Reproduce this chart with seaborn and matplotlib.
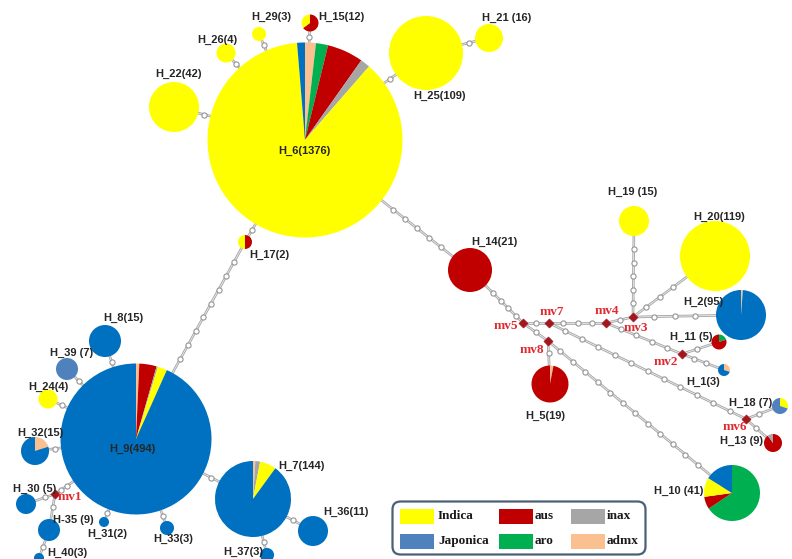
import numpy as np
import pandas as pd
import matplotlib
matplotlib.use("Agg")
import matplotlib.pyplot as plt
from matplotlib.patches import Wedge, Rectangle, FancyBboxPatch
import seaborn as sns

sns.set_theme(style="white")
plt.rcParams["font.family"] = ["Liberation Sans", "DejaVu Sans"]

# ---- haplotype data -------------------------------------------------------
haplotypes = ["H_6", "H_22", "H_26", "H_29", "H_15", "H_25", "H_21", "H_17",
              "H_14", "H_19", "H_20", "H_2", "H_11", "H_1", "H_18", "H_13",
              "H_10", "H_5", "H_9", "H_8", "H_39", "H_24", "H_32", "H_30",
              "H-35", "H_40", "H_31", "H_33", "H_7", "H_36", "H_37"]
counts = [1376, 42, 4, 3, 12, 109, 16, 2, 21, 15, 119, 95, 5, 3, 7, 9,
          41, 19, 494, 15, 7, 4, 15, 5, 9, 3, 2, 3, 144, 11, 3]
node_labels = ["H_6(1376)", "H_22(42)", "H_26(4)", "H_29(3)", "H_15(12)",
               "H_25(109)", "H_21 (16)", "H_17(2)", "H_14(21)", "H_19 (15)",
               "H_20(119)", "H_2(95)", "H_11 (5)", "H_1(3)", "H_18 (7)",
               "H_13 (9)", "H_10 (41)", "H_5(19)", "H_9(494)", "H_8(15)",
               "H_39 (7)", "H_24(4)", "H_32(15)", "H_30 (5)", "H-35 (9)",
               "H_40(3)", "H_31(2)", "H_33(3)", "H_7(144)", "H_36(11)",
               "H_37(3)"]

# share of each group within every haplotype
admx_share = [0.018, 0, 0, 0, 0, 0, 0, 0, 0, 0, 0, 0.012, 0, 0.30, 0, 0,
              0, 0.03, 0.007, 0, 0, 0, 0.20, 0, 0, 0, 0, 0, 0.01, 0, 0]
aro_share = [0.020, 0, 0, 0, 0, 0, 0, 0, 0, 0, 0, 0, 0.20, 0, 0, 0,
             0.656, 0, 0, 0, 0, 0, 0, 0, 0, 0, 0, 0, 0, 0, 0]
aus_share = [0.060, 0, 0, 0, 0.65, 0, 0, 0.5, 1, 0, 0, 0, 0.80, 0, 0, 0.90,
             0.072, 0.97, 0.037, 0, 0, 0, 0, 0, 0, 0, 0, 0, 0, 0, 0]
inax_share = [0.016, 0, 0, 0, 0, 0, 0, 0, 0, 0, 0, 0, 0, 0, 0, 0.10,
              0, 0, 0.003, 0, 0, 0, 0, 0, 0, 0, 0, 0, 0.02, 0, 0]
indica_share = [0.873, 1, 1, 1, 0.35, 1, 1, 0.5, 0, 1, 1, 0, 0, 0, 0.30, 0,
                0.111, 0, 0.020, 0, 0, 1, 0, 0, 0, 0, 0, 0, 0.07, 0, 0]
japonica_share = [0.013, 0, 0, 0, 0, 0, 0, 0, 0, 0, 0, 0.988, 0, 0.70, 0.70, 0,
                  0.161, 0, 0.933, 1, 1, 0, 0.80, 1, 1, 1, 1, 1, 0.90, 1, 1]

groups = ["admx", "aro", "aus", "inax", "Indica", "Japonica"]  # clockwise from 12 o'clock
shares = dict(zip(groups, [admx_share, aro_share, aus_share, inax_share,
                           indica_share, japonica_share]))

# median vectors and network edges (haplotype, haplotype, mutation steps)
median_vectors = ["mv1", "mv2", "mv3", "mv4", "mv5", "mv6", "mv7", "mv8"]
edges = [("H_6", "H_22", 1), ("H_6", "H_26", 1), ("H_6", "H_29", 1),
         ("H_6", "H_15", 1), ("H_6", "H_25", 1), ("H_25", "H_21", 1),
         ("H_6", "H_14", 5), ("H_6", "H_17", 1), ("H_17", "H_9", 8),
         ("H_14", "mv5", 4), ("mv5", "mv7", 1), ("mv7", "mv4", 3),
         ("mv4", "mv3", 1), ("mv3", "H_19", 5), ("mv3", "H_20", 3),
         ("mv3", "H_2", 3), ("mv4", "mv2", 4), ("mv2", "H_11", 1),
         ("mv2", "H_1", 2), ("mv7", "mv6", 11), ("mv6", "H_18", 1),
         ("mv6", "H_13", 1), ("mv5", "mv8", 1), ("mv8", "H_5", 1),
         ("mv8", "H_10", 12), ("H_9", "H_8", 1), ("H_9", "H_39", 1),
         ("H_9", "H_24", 1), ("H_9", "H_32", 1), ("H_9", "mv1", 2),
         ("mv1", "H_30", 1), ("mv1", "H-35", 1), ("H-35", "H_40", 1),
         ("H_9", "H_31", 1), ("H_9", "H_33", 1), ("H_9", "H_7", 1),
         ("H_7", "H_36", 1), ("H_7", "H_37", 1)]

# ---- network layout (canvas units, y grows downward) ----------------------
layout_x = [305, 174, 226, 259, 310, 426, 489, 245, 470, 634, 715, 741, 719,
            724, 780, 773, 732, 550, 136, 105, 67, 48, 35, 26, 49, 39, 104,
            167, 253, 313, 267]
layout_y = [140, 107, 53, 34, 23, 53, 38, 242, 270, 221, 256, 315, 342, 370,
            406, 443, 493, 384, 439, 341, 369, 399, 451, 504, 530, 558, 522,
            528, 499, 531, 555]
node_radius = [97.5, 25, 9.5, 7, 8.5, 37, 14, 7, 22, 15, 35, 25, 7.5, 6, 8,
               9, 28, 18.5, 75.5, 16, 11, 9.5, 14, 10, 11, 5, 5, 7, 38, 15, 7]
label_x = [304, 178, 217, 271, 341, 439, 507, 269, 494, 633, 719, 703, 691,
           703, 751, 742, 679, 545, 132, 123, 72, 48, 40, 35, 73, 67, 107,
           173, 301, 346, 243]
label_y = [151, 74, 40, 17, 17, 96, 18, 255, 242, 192, 217, 302, 337, 382,
           403, 441, 491, 416, 449, 318, 353, 387, 433, 489, 520, 553, 534,
           539, 466, 512, 552]
mv_x = [55, 682, 633, 606, 523, 746, 549, 548]
mv_y = [494, 354, 317, 323, 323, 419, 323, 341]
mv_label_x = [58, 666, 636, 607, 506, 735, 552, 532]
mv_label_y = [497, 362, 328, 311, 326, 427, 312, 350]

colors = {"Indica": "#FFFF00", "Japonica": "#0070C0", "aus": "#C00000",
          "aro": "#00B050", "inax": "#A6A6A6", "admx": "#FAC090"}
steel_blue = "#4F81BD"
steel_nodes = {"H_39", "H_18"}

pos = {h: (x, y, r) for h, x, y, r in zip(haplotypes, layout_x, layout_y, node_radius)}
for m, x, y in zip(median_vectors, mv_x, mv_y):
    pos[m] = (x, y, 0.0)

fig = plt.figure(figsize=(7.92, 5.59), dpi=100)
ax = fig.add_axes([0, 0, 1, 1])

# edges and their mutation steps
step_rows = []
for a, b, k in edges:
    xa, ya, ra = pos[a]
    xb, yb, rb = pos[b]
    ax.plot([xa, xb], [ya, yb], color="#A8A8A8", lw=1.9, zorder=1,
            solid_capstyle="butt")
    ax.plot([xa, xb], [ya, yb], color="#EBEBEB", lw=0.6, zorder=1.1)
    d = np.hypot(xb - xa, yb - ya)
    ux, uy = (xb - xa) / d, (yb - ya) / d
    gap = d - ra - rb
    for i in range(1, k + 1):
        t = ra + gap * i / (k + 1)
        step_rows.append({"x": xa + ux * t, "y": ya + uy * t})
steps = pd.DataFrame(step_rows)
sns.scatterplot(data=steps, x="x", y="y", ax=ax, s=14, color="white",
                edgecolor="#959595", linewidth=0.8, zorder=2, legend=False)

# haplotype pies
for i, h in enumerate(haplotypes):
    x, y, r = pos[h]
    start = 0.0
    for g in groups:
        f = shares[g][i]
        if f <= 0:
            continue
        c = colors[g]
        if g == "Japonica" and h in steel_nodes:
            c = steel_blue
        ax.add_patch(Wedge((x, y), r, start * 360 - 90, (start + f) * 360 - 90,
                           facecolor=c, edgecolor="none", zorder=3))
        start += f
    ax.text(label_x[i], label_y[i], node_labels[i], ha="center", va="center",
            fontsize=8.0, fontweight="bold", color="#262626", zorder=5)

# median vectors
mvs = pd.DataFrame({"x": mv_x, "y": mv_y})
sns.scatterplot(data=mvs, x="x", y="y", ax=ax, marker="D", s=22,
                color="#A3161C", edgecolor="#A3161C", zorder=4, legend=False)
for m, lx, ly in zip(median_vectors, mv_label_x, mv_label_y):
    ax.text(lx, ly, m, ha="left" if m == "mv1" else "center", va="center",
            fontsize=9.5, fontweight="bold", color="#E02A30",
            family=["Liberation Serif", "DejaVu Serif"], zorder=5)

# legend box
ax.add_patch(FancyBboxPatch((396, 505), 246, 46,
                            boxstyle="round,pad=3.5,rounding_size=8",
                            facecolor="white", edgecolor="#4A6076", lw=1.6,
                            zorder=6))
legend_groups = ["Indica", "Japonica", "aus", "aro", "inax", "admx"]
legend_colors = ["#FFFF00", steel_blue, "#C00000", "#00B050", "#A6A6A6", "#FAC090"]
legend_cols = [400, 400, 499, 499, 571, 571]
legend_rows = [509, 534, 509, 534, 509, 534]
for g, c, lx, ly in zip(legend_groups, legend_colors, legend_cols, legend_rows):
    ax.add_patch(Rectangle((lx, ly), 34, 15, facecolor=c, edgecolor="none",
                           zorder=7))
    ax.text(lx + 38 if lx == 400 else lx + 36, ly + 7, g, ha="left",
            va="center", fontsize=9.5, fontweight="bold", color="#1A1A1A",
            family=["Liberation Serif", "DejaVu Serif"], zorder=7)

ax.set_xlim(0, 792)
ax.set_ylim(559, 0)
ax.set_aspect("auto")
ax.axis("off")
fig.savefig("out.png", dpi=100, facecolor="white")
